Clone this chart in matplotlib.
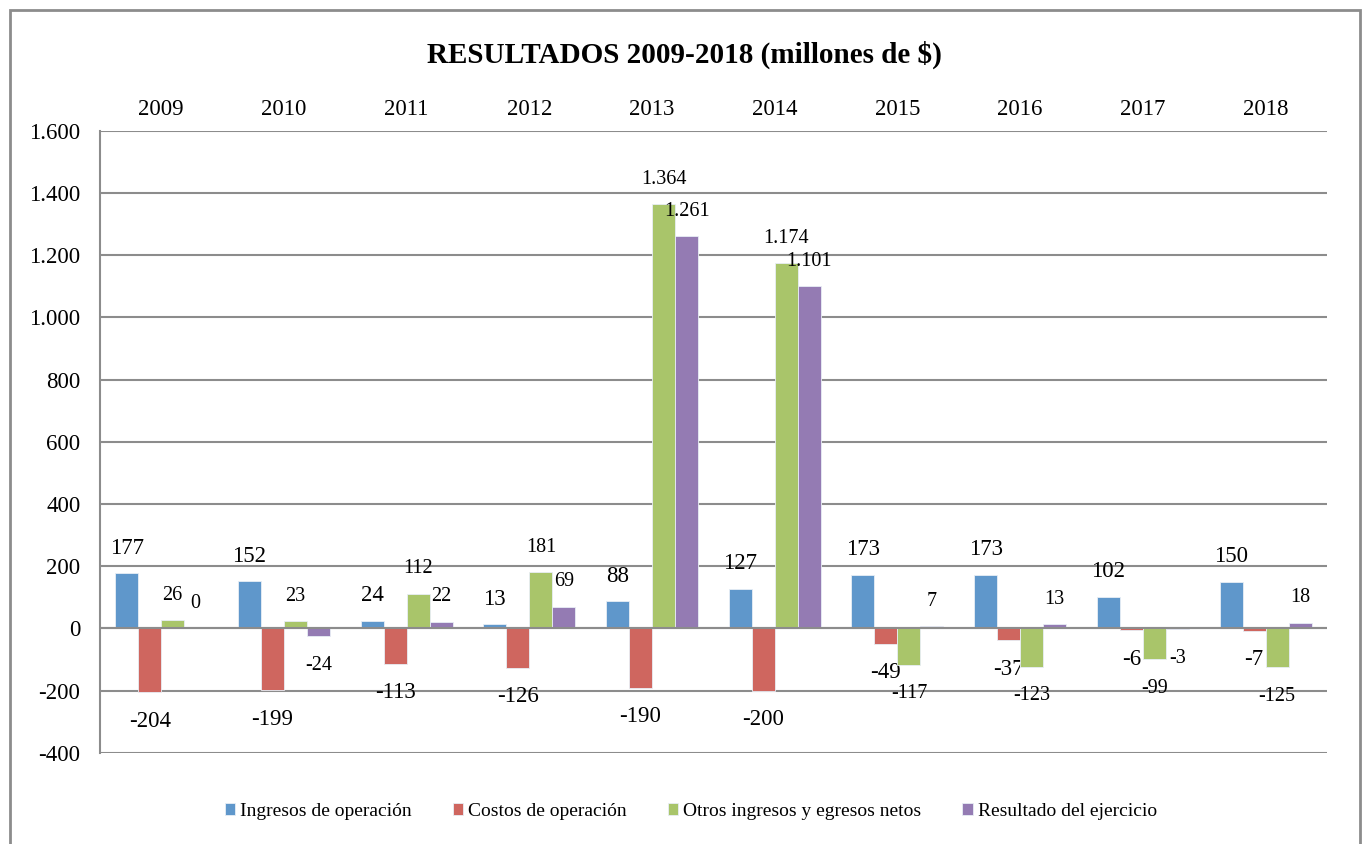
import numpy as np
import matplotlib.pyplot as plt
from matplotlib.patches import Rectangle
from matplotlib.ticker import FuncFormatter

plt.rcParams['font.family'] = ['Liberation Serif', 'DejaVu Serif']

years = ['2009', '2010', '2011', '2012', '2013', '2014', '2015', '2016', '2017', '2018']
ingresos = [177, 152, 24, 13, 88, 127, 173, 173, 102, 150]
costos = [-204, -199, -113, -126, -190, -200, -49, -37, -6, -7]
otros = [26, 23, 112, 181, 1364, 1174, -117, -123, -99, -125]
resultado = [0, -24, 22, 69, 1261, 1101, 7, 13, -3, 18]

series = [
    ('Ingresos de operación', ingresos, '#5f97cb', 16.5),
    ('Costos de operación', costos, '#cf665f', 16.5),
    ('Otros ingresos y egresos netos', otros, '#a9c56a', 14.5),
    ('Resultado del ejercicio', resultado, '#947bb3', 14.5),
]


def miles(v, pos=None):
    return f'{v:,.0f}'.replace(',', '.')


fig = plt.figure(figsize=(13.68, 8.44), dpi=100)
ax = fig.add_axes([0.073, 0.108, 0.897, 0.737])

x = np.arange(len(years))
w = 0.1875
for i, (name, vals, color, fs) in enumerate(series):
    pos = x + (i - 1.5) * w
    ax.bar(pos, vals, w, color=color, edgecolor='#e8eef5', linewidth=0.6, label=name, zorder=3)
    for px, v in zip(pos, vals):
        off = 18 if v >= 0 else -21
        ax.annotate(miles(v), (px, v), xytext=(0, off), textcoords='offset points',
                    ha='center', va='center', fontsize=fs)

ax.set_xlim(-0.5, len(years) - 0.5)
ax.set_ylim(-400, 1600)
ax.set_yticks(np.arange(-400, 1601, 200))
ax.yaxis.set_major_formatter(FuncFormatter(miles))
ax.set_xticks(x)
ax.set_xticklabels(years)
ax.xaxis.tick_top()
ax.tick_params(axis='x', length=0, pad=8, labelsize=16.5)
ax.tick_params(axis='y', length=0, pad=14, labelsize=16.5)
ax.grid(axis='y', color='#8c8c8c', linewidth=1.5, zorder=0)
for s in ['top', 'right', 'bottom']:
    ax.spines[s].set_visible(False)
ax.spines['left'].set_color('#8c8c8c')
ax.spines['left'].set_linewidth(1.5)
ax.axhline(0, color='#8c8c8c', linewidth=1.5, zorder=4)

fig.text(0.5, 0.935, 'RESULTADOS 2009-2018 (millones de $)', ha='center', va='center',
         fontsize=21, fontweight='bold')

fig.legend(loc='center', bbox_to_anchor=(0.505, 0.039), ncol=4, frameon=False,
           fontsize=14, handlelength=0.55, handleheight=0.55, handletextpad=0.25, columnspacing=2.1)

fig.patches.append(Rectangle((0.007, -0.01), 0.987, 0.998, transform=fig.transFigure,
                             fill=False, edgecolor='#8c8c8c', linewidth=2))

fig.savefig('out.png', dpi=100)
